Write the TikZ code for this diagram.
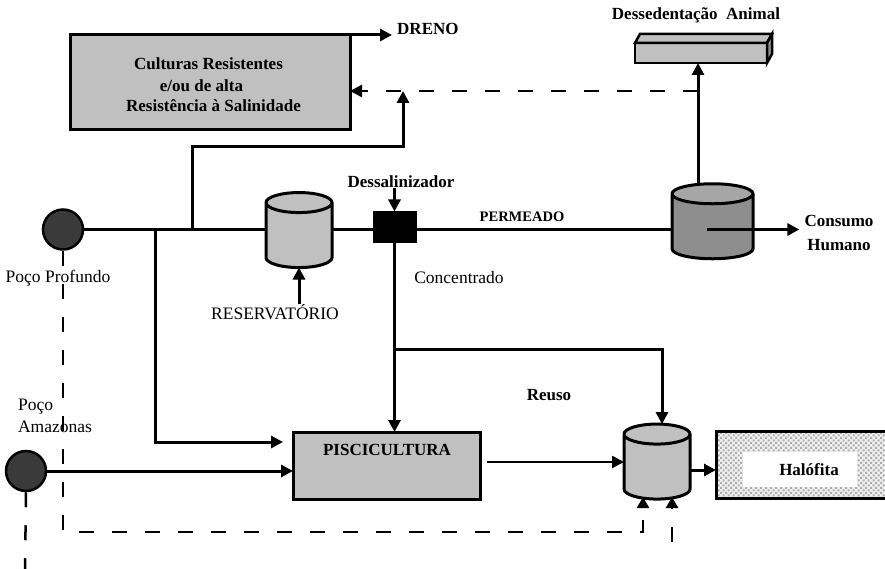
\documentclass[tikz,border=0pt]{standalone}
\usepackage{fontspec}
\setmainfont{Liberation Serif}
\usetikzlibrary{shapes.geometric,arrows.meta,patterns,positioning}
\definecolor{boxgray}{HTML}{C0C0C0}
\definecolor{tankdark}{HTML}{8E8E8E}
\definecolor{tanklid}{HTML}{A6A6A6}
\definecolor{welldark}{HTML}{3A3A3A}
\pgfdeclarepatternformonly{stipple}{\pgfqpoint{-1pt}{-1pt}}{\pgfqpoint{5pt}{5pt}}{\pgfqpoint{5pt}{5pt}}{%
  \pgfpathrectangle{\pgfqpoint{0pt}{0pt}}{\pgfqpoint{2pt}{2pt}}%
  \pgfpathrectangle{\pgfqpoint{2.5pt}{2.5pt}}{\pgfqpoint{2pt}{2pt}}%
  \pgfusepath{fill}}
\tikzset{
    box/.style={draw, fill=boxgray, line width=3pt, outer sep=0pt},
    tank/.style={
        draw, line width=3pt, outer sep=0pt,
        cylinder, shape border rotate=90, aspect=3,
        cylinder uses custom fill,
        cylinder body fill=boxgray, cylinder end fill=boxgray,
        minimum width=66pt, minimum height=75pt
    },
    well/.style={draw, circle, fill=welldark, line width=2.5pt, minimum size=40pt, inner sep=0pt},
    btxt/.style={font=\bfseries\fontsize{17}{24}\selectfont, inner sep=0pt},
    ntxt/.style={font=\fontsize{17.5}{22}\selectfont, inner sep=0pt},
    pipe/.style={line width=3pt},
    arr/.style={pipe, -{Triangle[length=12pt,width=12pt]}},
    dline/.style={line width=2.5pt, dash pattern=on 15pt off 18pt}
}

\begin{document}
\begin{tikzpicture}[x=1pt,y=-1pt]
  \useasboundingbox (0,0) rectangle (885,569);

  % culturas e dreno
  \node[box, minimum width=280pt, minimum height=95pt] (cult) at (210,82.5) {};
  \node[btxt] (cult1) at (208.5,64) {Culturas Resistentes};
  \node[btxt] (cult2) at (201.5,86) {e/ou de alta};
  \node[btxt] (cult3) at (213.5,106) {Resistência à Salinidade};
  \node[btxt, anchor=west] (dreno) at (397,29) {DRENO};
  \draw[arr] (cult.north east) -- ([xshift=-5pt]dreno.west |- cult.north east);

  % dessedentacao
  \node[box, minimum width=132pt, minimum height=20pt, line width=2.5pt] (dess) at (701,53) {};
  \draw[line width=2.5pt, fill=boxgray] (dess.north west) -- ++(5,-9) -- ++(132,0) -- (dess.north east) -- cycle;
  \draw[line width=2.5pt, fill=tankdark] (dess.north east) -- ++(5,-9) -- ++(0,20) -- (dess.south east) -- cycle;
  \node[btxt] (dessl) at (696,15) {Dessedentação\ \ Animal};

  % linha principal
  \node[well] (w1) at (63,229.5) {};
  \node[ntxt] (w1l) at (58,278) {Poço Profundo};
  \node[tank] (res) at (299,238) {};
  \node[ntxt] (resl) at (275,312) {RESERVATÓRIO};
  \node[draw, fill=black, minimum width=43pt, minimum height=31pt, outer sep=0pt] (des) at (394.5,227) {};
  \node[btxt] (desl) at (401,182) {Dessalinizador};
  \node[tank, cylinder body fill=tankdark, cylinder end fill=tanklid, minimum width=81pt] (perm) at (712.5,229) {};
  \node[btxt, font=\bfseries\fontsize{14.5}{17}\selectfont] (perml) at (522,217) {PERMEADO};
  \node[btxt, align=center] (cons) at (839,233) {Consumo\\Humano};
  \node[ntxt] (concl) at (459,278) {Concentrado};

  \coordinate (jA) at (155,229.5);
  \coordinate (jB) at (192,229.5);
  \coordinate (jC) at (403,91);
  \coordinate (jD) at (698,91);

  \draw[pipe] (w1.east) -- (w1.east -| res.west);
  \draw[pipe] (w1.east -| res.east) -- (w1.east -| des.west);
  \draw[pipe] (w1.east -| des.east) -- (w1.east -| perm.west);
  \draw[arr] (w1.east -| 707,0) -- ([xshift=-5pt]w1.east -| cons.west);
  \draw[arr] (desl.south -| des.north) -- (des.north);
  \draw[arr] (resl.north -| res.south) -- (res.south);
  \draw[arr] (jB) |- (jC |- 0,147) -- (jC);
  \draw[arr] (perm.north -| jD) -- (dess.south -| jD);
  \draw[dline, -{Triangle[length=12pt,width=12pt]}] (jD) -- (jC -| cult.east);

  % parte de baixo
  \node[well] (w2) at (26,471) {};
  \node[ntxt, align=left] (w2l) at (55,416) {Poço\\Amazonas};
  \node[box, minimum width=187pt, minimum height=67pt] (pisc) at (386.5,465.5) {};
  \node[btxt] (piscl) at (387,450) {PISCICULTURA};
  \node[tank] (reuse) at (657,469.5) {};
  \node[btxt] (reusel) at (549,395) {Reuso};
  \node[draw, line width=3pt, outer sep=0pt, preaction={fill=gray!12}, pattern=stipple, pattern color=gray!65,
        minimum width=170pt, minimum height=67pt] (hal) at (801,465) {};
  \node[fill=white, minimum width=114pt, minimum height=35pt, inner sep=0pt,
        font=\bfseries\fontsize{17}{20}\selectfont] (halin) at (800,469.5) {\hspace*{18pt}Halófita};

  \draw[arr] (des.south) -- (des.south |- pisc.north);
  \draw[arr] (des.south |- 0,349) -| ([xshift=5pt]reuse.north);
  \draw[arr] (jA) |- ([xshift=-10pt]pisc.west |- 0,442);
  \draw[arr] (w2.east) -- (w2.east -| pisc.west);
  \draw[line width=2.5pt, -{Triangle[length=12pt,width=12pt]}] ([xshift=7pt]pisc.east |- 0,462) -- (reuse.west |- 0,462);
  \draw[arr] (reuse.east |- 0,470) -- (hal.west |- 0,470);

  % tracejados
  \coordinate (dA) at (643,497);
  \coordinate (dB) at (672,542);
  \coordinate (dC) at (25,572);
  \draw[dline, -{Triangle[length=11pt,width=12pt]}] (w1.south) |- (dA |- 0,532) -- (dA);
  \draw[dline, -{Triangle[length=11pt,width=12pt]}] (dB) -- (dB |- dA);
  \draw[dline] (w2.south) -- (dC);
\end{tikzpicture}
\end{document}
